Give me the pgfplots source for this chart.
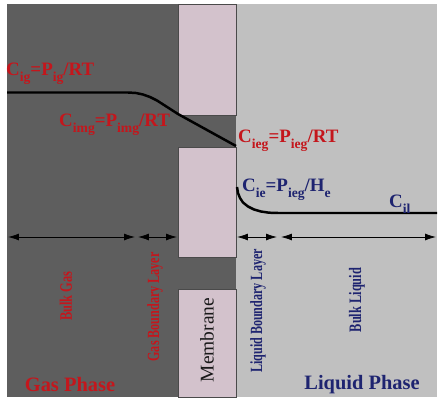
\documentclass[border=0pt]{standalone}
\usepackage{pgfplots}
\pgfplotsset{compat=1.18}
\usepackage{fontspec}
\setmainfont{Liberation Serif}
\usetikzlibrary{arrows.meta}
\definecolor{gasgray}{HTML}{5E5E5E}
\definecolor{liqgray}{HTML}{C0C0C0}
\definecolor{membr}{HTML}{D3C2CC}
\definecolor{membredge}{HTML}{4A4A4A}
\definecolor{redlbl}{HTML}{C4161C}
\definecolor{bluelbl}{HTML}{1E2470}
% subscript in text mode
\newcommand{\sbt}[1]{\raisebox{-0.3em}{\scalebox{0.72}{#1}}}
% tall, narrow lettering for the layer names
\newcommand{\tall}[1]{\scalebox{0.92}[1.3]{#1}}
\begin{document}
\begin{tikzpicture}
\begin{axis}[
  scale only axis, width=439bp, height=401bp,
  xmin=0, xmax=439, ymin=0, ymax=401, y dir=reverse,
  hide axis, clip=false,
]
% background regions
\fill[white] (axis cs:0,0) rectangle (axis cs:439,401);
\fill[gasgray] (axis cs:7,4) rectangle (axis cs:236,397);
\fill[liqgray] (axis cs:236,4) rectangle (axis cs:437,397);
% membrane blocks with pores between them
\filldraw[fill=membr, draw=membredge, line width=0.9pt] (axis cs:178,4) rectangle (axis cs:236,115);
\filldraw[fill=membr, draw=membredge, line width=0.9pt] (axis cs:178,147) rectangle (axis cs:236,257);
\filldraw[fill=membr, draw=membredge, line width=0.9pt] (axis cs:178,289) rectangle (axis cs:236,397);
% concentration profile, gas side
\addplot[black, line width=2.5pt, line join=round] coordinates {
  (7,92.5) (128,92.5) (136,93) (143,94.5) (150,97) (157,100.5) (164,105) (171,109.5) (178,114) (236,146)
};
% concentration profile, liquid side
\addplot[black, line width=2.5pt, line join=round] coordinates {
  (237,187) (238,193) (240,198) (243,202.5) (248,206.5) (254,209.5) (261,211.5) (269,212.7) (278,213) (437,213)
};
% layer extents
\tikzset{dim/.style={black, line width=0.8pt, {Latex[length=11pt,width=7pt]}-{Latex[length=11pt,width=7pt]}}}
\draw[dim] (axis cs:8,237) -- (axis cs:135,237);
\draw[dim] (axis cs:138,237) -- (axis cs:177,237);
\draw[dim] (axis cs:237,237) -- (axis cs:277,237);
\draw[dim] (axis cs:281,237) -- (axis cs:436,237);
% concentration labels
\node[anchor=west, inner sep=0, text=redlbl, font=\fontsize{19}{19}\selectfont\bfseries] at (axis cs:6,74) {C\sbt{ig}=P\sbt{ig}/RT};
\node[anchor=west, inner sep=0, text=redlbl, font=\fontsize{19}{19}\selectfont\bfseries] at (axis cs:59,125) {C\sbt{img}=P\sbt{img}/RT};
\node[anchor=west, inner sep=0, text=redlbl, font=\fontsize{19}{19}\selectfont\bfseries] at (axis cs:238,141) {C\sbt{ieg}=P\sbt{ieg}/RT};
\node[anchor=west, inner sep=0, text=bluelbl, font=\fontsize{19}{19}\selectfont\bfseries] at (axis cs:242,190) {C\sbt{ie}=P\sbt{ieg}/H\sbt{e}};
\node[anchor=west, inner sep=0, text=bluelbl, font=\fontsize{19}{19}\selectfont\bfseries] at (axis cs:389,204) {C\sbt{il}};
% region labels
\node[rotate=90, inner sep=0, text=redlbl, font=\fontsize{13.5}{13.5}\selectfont\bfseries] at (axis cs:66,296) {\tall{Bulk Gas}};
\node[rotate=90, inner sep=0, text=redlbl, font=\fontsize{13.2}{13.2}\selectfont\bfseries] at (axis cs:155,307) {\tall{Gas Boundary Layer}};
\node[rotate=90, inner sep=0, text=black!90, font=\fontsize{19.5}{19.5}\selectfont] at (axis cs:207,340) {Membrane};
\node[rotate=90, inner sep=0, text=bluelbl, font=\fontsize{13.2}{13.2}\selectfont\bfseries] at (axis cs:258,311) {\tall{Liquid Boundary Layer}};
\node[rotate=90, inner sep=0, text=bluelbl, font=\fontsize{13.5}{13.5}\selectfont\bfseries] at (axis cs:357,300) {\tall{Bulk Liquid}};
\node[inner sep=0, text=redlbl, font=\fontsize{20.5}{20.5}\selectfont\bfseries] at (axis cs:70,385) {Gas Phase};
\node[inner sep=0, text=bluelbl, font=\fontsize{20.5}{20.5}\selectfont\bfseries] at (axis cs:362,385) {Liquid Phase};
\end{axis}
\end{tikzpicture}
\end{document}
